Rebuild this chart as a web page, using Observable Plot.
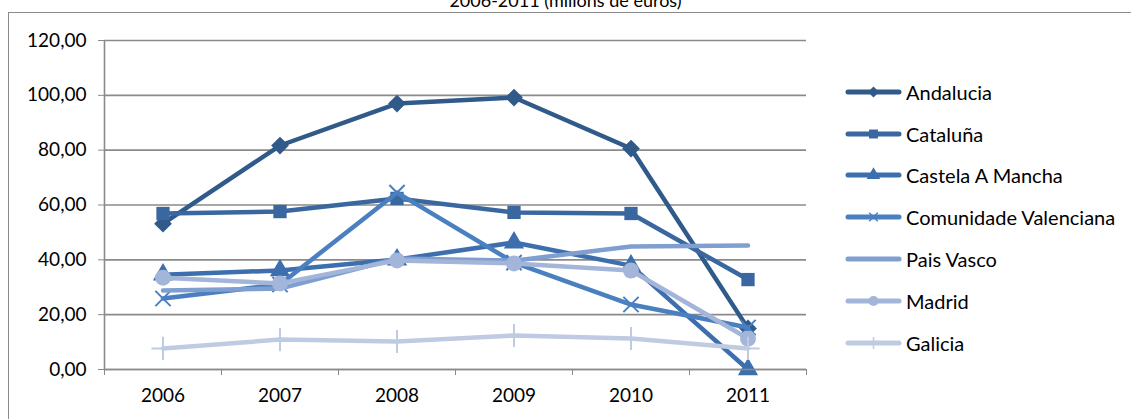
<!DOCTYPE html>
<html>
<head>
<meta charset="utf-8">
<script src="https://cdn.jsdelivr.net/npm/d3@7"></script>
<script src="https://cdn.jsdelivr.net/npm/@observablehq/plot@0.6"></script>
<style>
  body { margin: 0; background: #fff; }
  #wrap { position: relative; width: 1131px; height: 419px; overflow: hidden; font-family: Lato, "Liberation Sans", sans-serif; }
  #frame { position: absolute; left: 8px; top: 12px; width: 1200px; height: 500px; border: 1.5px solid #8a8a8a; box-sizing: border-box; }
  #title { position: absolute; left: 0; width: 1131px; top: -9px; text-align: center; font-size: 18px; line-height: 18px; color: #000; }
  #chart { position: absolute; left: 0; top: 0; }
  #legend { position: absolute; left: 845px; top: 71px; }
  .row { height: 41.8px; display: flex; align-items: center; font-size: 20px; color: #000; }
  .row svg { margin-right: 4px; }
</style>
</head>
<body>
<div id="wrap">
  <div id="frame"></div>
  <div id="title">2006-2011 (milions de euros)</div>
  <div id="chart"></div>
  <div id="legend"></div>
</div>
<script>
const years = [2006, 2007, 2008, 2009, 2010, 2011];
const regions = ["Andalucia", "Cataluña", "Castela A Mancha", "Comunidade Valenciana", "Pais Vasco", "Madrid", "Galicia"];
const andalucia   = [53.2, 81.7, 97.0, 99.2, 80.6, 15.0];
const cataluna    = [56.9, 57.6, 62.4, 57.3, 56.9, 32.8];
const castela     = [34.6, 36.1, 40.1, 46.3, 37.9, 0.0];
const valenciana  = [25.9, 31.0, 64.5, 39.0, 23.7, 15.3];
const paisVasco   = [28.8, 29.5, 40.5, 39.7, 44.9, 45.2];
const madrid      = [33.5, 31.4, 39.8, 38.7, 36.1, 11.3];
const galicia     = [7.7, 10.9, 10.2, 12.4, 11.3, 7.7];
const seriesValues = [andalucia, cataluna, castela, valenciana, paisVasco, madrid, galicia];
const yTicks = [0, 20, 40, 60, 80, 100, 120];

// styles
const colors = ["#2f5a8a", "#3a67a0", "#3d6fae", "#4a7fc0", "#7f9fd0", "#a3b5d8", "#bfcbe2"];
const symbols = ["diamond2", "square", "triangle", "times", null, "circle", "plus"];
const symR = [8, 7.5, 7.5, 7, 0, 8, 7.5];

const data = [];
regions.forEach((r, i) => years.forEach((yr, j) => data.push({region: r, idx: i, year: yr, value: seriesValues[i][j]})));

const boundaries = [...years.map(y => y - 0.5), years[years.length - 1] + 0.5];
const fmt = d => d.toFixed(2).replace(".", ",");

const marks = [
  Plot.gridY(yTicks, {stroke: "#8a8a8a", strokeOpacity: 1, strokeWidth: 1.6}),
  Plot.ruleX([boundaries[0]], {y1: 0, y2: 120, stroke: "#8a8a8a", strokeWidth: 1.6}),
  Plot.axisY(yTicks, {tickFormat: fmt, tickSize: 6, tickPadding: 12, stroke: "#8a8a8a", fontSize: 19, fill: "#000", label: null}),
  Plot.axisX(boundaries, {tickFormat: () => "", tickSize: 6, stroke: "#8a8a8a", label: null}),
  Plot.axisX(years, {tickFormat: d => String(d), tickSize: 0, tickPadding: 19, fontSize: 19, fill: "#000", label: null}),
];
regions.forEach((r, i) => {
  const d = data.filter(e => e.idx === i);
  marks.push(Plot.line(d, {x: "year", y: "value", stroke: colors[i], strokeWidth: 4.5, strokeLinejoin: "round", strokeLinecap: "round"}));
  const s = symbols[i];
  if (s === "times" || s === "plus") {
    marks.push(Plot.dot(d, {x: "year", y: "value", symbol: () => s, r: symR[i], stroke: colors[i], strokeWidth: 2, fill: "none"}));
  } else if (s) {
    marks.push(Plot.dot(d, {x: "year", y: "value", symbol: () => s, r: symR[i], fill: colors[i], stroke: "none"}));
  }
});
marks.push(Plot.ruleY([0], {stroke: "#8a8a8a", strokeWidth: 1.6}));

const chart = Plot.plot({
  width: 1131,
  height: 419,
  marginLeft: 104,
  marginRight: 325,
  marginTop: 40,
  marginBottom: 50,
  x: {type: "linear", domain: [boundaries[0], boundaries[boundaries.length - 1]], axis: null, label: null},
  y: {domain: [0, 120], axis: null, label: null},
  symbol: {type: "identity"},
  style: {fontFamily: "Lato, 'Liberation Sans', sans-serif", background: "transparent", overflow: "visible"},
  marks
});
document.getElementById("chart").appendChild(chart);

// legend
const legend = d3.select("#legend");
regions.forEach((r, i) => {
  const row = legend.append("div").attr("class", "row");
  const svg = row.append("svg").attr("width", 57).attr("height", 20);
  svg.append("line").attr("x1", 3).attr("x2", 54).attr("y1", 10).attr("y2", 10)
    .attr("stroke", colors[i]).attr("stroke-width", 5).attr("stroke-linecap", "round");
  const s = symbols[i];
  if (s) {
    const symMap = {diamond2: d3.symbolDiamond2, square: d3.symbolSquare, triangle: d3.symbolTriangle, times: d3.symbolTimes, circle: d3.symbolCircle, plus: d3.symbolPlus};
    const stroked = (s === "times" || s === "plus");
    svg.append("path").attr("transform", "translate(28.5,10)")
      .attr("d", d3.symbol(symMap[s], stroked ? 50 : 80)())
      .attr("fill", stroked ? "none" : colors[i])
      .attr("stroke", stroked ? colors[i] : "none").attr("stroke-width", 1.5);
  }
  row.append("span").text(r);
});
</script>
</body>
</html>
